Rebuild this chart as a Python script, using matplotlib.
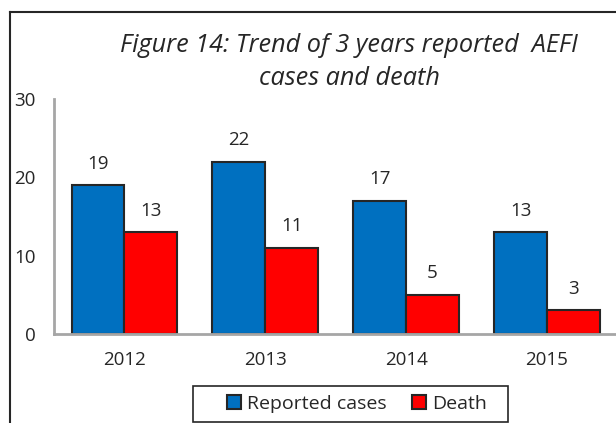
import matplotlib
matplotlib.use('Agg')
import matplotlib.pyplot as plt
import numpy as np
from matplotlib.lines import Line2D
from matplotlib.patches import Rectangle

plt.rcParams['font.family'] = ['Open Sans', 'DejaVu Sans']

years = ['2012', '2013', '2014', '2015']
reported = [19, 22, 17, 13]
death = [13, 11, 5, 3]

blue = '#0070C0'
red = '#FF0000'
edge = '#262626'
grey = '#A6A6A6'

fig = plt.figure(figsize=(6.16, 4.23), dpi=100)
ax = fig.add_axes([0.0877, 0.2104, 0.9123, 0.5556])

x = np.arange(len(years))
w = 0.375
b1 = ax.bar(x - w/2, reported, w, color=blue, edgecolor=edge, linewidth=1.5, label='Reported cases')
b2 = ax.bar(x + w/2, death, w, color=red, edgecolor=edge, linewidth=1.5, label='Death')

for bars, vals in [(b1, reported), (b2, death)]:
    for r, v in zip(bars, vals):
        ax.annotate(str(v), (r.get_x() + r.get_width()/2, v), xytext=(0, 9),
                    textcoords='offset points', ha='center', va='bottom', fontsize=13.5, color='#262626')

ax.set_ylim(0, 30)
ax.set_xlim(-0.5, 3.49)
ax.set_yticks([0, 10, 20, 30])
ax.set_xticks(x)
ax.set_xticklabels(years)
ax.tick_params(axis='both', length=0, labelsize=13.5, colors='#262626')
ax.tick_params(axis='y', pad=13)
ax.tick_params(axis='x', pad=12)
for s in ['top', 'right']:
    ax.spines[s].set_visible(False)
for s in ['left', 'bottom']:
    ax.spines[s].set_color(grey)
    ax.spines[s].set_linewidth(2)

fig.text(0.567, 0.893, 'Figure 14: Trend of 3 years reported  AEFI', ha='center', va='center',
         fontsize=18.2, style='italic', color='#262626')
fig.text(0.567, 0.815, 'cases and death', ha='center', va='center',
         fontsize=18.2, style='italic', color='#262626')

leg = fig.legend(handles=[b1, b2], loc='center', bbox_to_anchor=(0.5795, 0.045), ncol=2,
                 fontsize=14, frameon=False, handlelength=0.72, handleheight=0.72,
                 handletextpad=0.3, columnspacing=1.3, borderpad=0, borderaxespad=0)
for t in leg.get_texts():
    t.set_color('#262626')
# legend box
fig.add_artist(Rectangle((193/616, 1 - 422/423), 315/616, 36/423, transform=fig.transFigure,
                         fill=False, edgecolor=edge, linewidth=1.2))

# outer chart frame
fig.add_artist(Line2D([0.016, 1.0], [0.972, 0.972], color=edge, linewidth=1.5))
fig.add_artist(Line2D([0.016, 0.016], [0.0, 0.972], color=edge, linewidth=1.5))

plt.savefig('out.png', dpi=100)
